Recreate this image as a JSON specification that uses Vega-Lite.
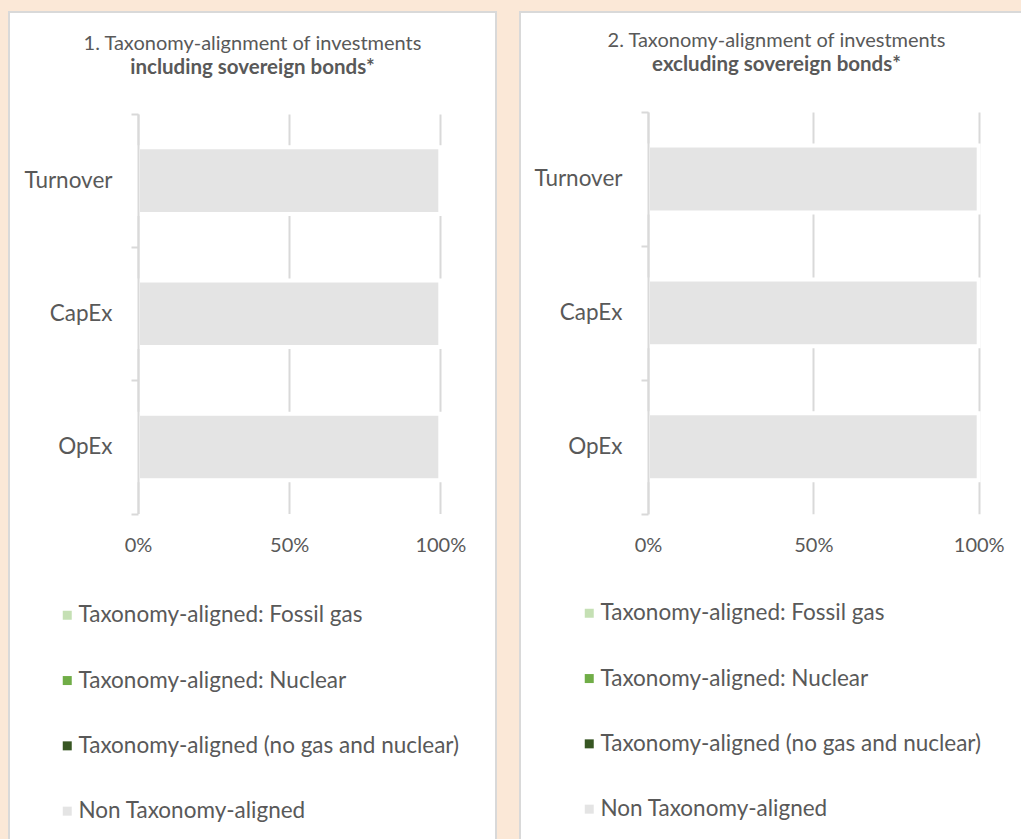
{
  "$schema": "https://vega.github.io/schema/vega-lite/v6.json",
  "background": "#FBE8D7",
  "padding": {"left": 8, "top": 0, "right": 0, "bottom": 0},
  "autosize": {"type": "pad"},
  "spacing": 22,
  "config": {
    "font": "Lato",
    "view": {"fill": "white", "stroke": "#D9D9D9", "strokeWidth": 2},
    "title": {"anchor": "middle", "frame": "group", "fontSize": 20, "fontWeight": "normal", "color": "#595959", "subtitleFontSize": 20.5, "subtitleFontWeight": "bold", "subtitleColor": "#595959", "subtitlePadding": 4, "subtitleFont": "Lato"},
    "axis": {"labelColor": "#595959", "labelFont": "Lato", "domainColor": "#D9D9D9", "tickColor": "#D9D9D9", "gridColor": "#D9D9D9"},
    "legend": {"labelColor": "#595959", "labelFont": "Lato", "labelFontSize": 22.5, "symbolType": "square", "symbolSize": 81, "symbolStrokeWidth": 0, "labelOffset": 0, "rowPadding": 42.3, "padding": 0, "direction": "vertical", "orient": "none", "labelLimit": 500}
  },
  "datasets": {
    "p1": [
      {"metric": "Turnover", "category": "Non Taxonomy-aligned", "share": 1},
      {"metric": "CapEx", "category": "Non Taxonomy-aligned", "share": 1},
      {"metric": "OpEx", "category": "Non Taxonomy-aligned", "share": 1}
    ],
    "p2": [
      {"metric": "Turnover", "category": "Non Taxonomy-aligned", "share": 1},
      {"metric": "CapEx", "category": "Non Taxonomy-aligned", "share": 1},
      {"metric": "OpEx", "category": "Non Taxonomy-aligned", "share": 1}
    ]
  },
  "resolve": {"scale": {"color": "independent", "x": "independent", "y": "independent"}, "legend": {"color": "independent"}},
  "hconcat": [
    {
      "width": 487,
      "height": 832,
      "title": {"text": "1. Taxonomy-alignment of investments", "subtitle": "including sovereign bonds*", "offset": -77},
      "data": {"name": "p1"},
      "mark": {"type": "bar", "stroke": "white", "strokeWidth": 4, "height": {"band": 0.5}, "fill": "#E4E4E4"},
      "encoding": {
        "y": {"field": "metric", "type": "nominal", "sort": ["Turnover", "CapEx", "OpEx"],
              "scale": {"range": [102, 501.5], "paddingInner": 0, "paddingOuter": 0},
              "axis": {"title": null, "orient": "left", "offset": -129, "zindex": 1, "domainWidth": 2, "tickWidth": 2, "tickSize": 7, "tickBand": "extent", "labelFontSize": 22.5, "labelPadding": 19, "grid": false}},
        "x": {"field": "share", "type": "quantitative", "stack": true,
              "scale": {"domain": [0, 1], "range": [129, 431.3], "nice": false},
              "axis": {"title": null, "orient": "top", "offset": 0, "values": [0, 0.5, 1], "format": ".0%", "domain": false, "ticks": false, "tickSize": 0, "labelPadding": -543, "labelFlush": false, "labelFontSize": 20, "grid": true, "gridWidth": 2, "zindex": 0}},
        "color": {"field": "category", "type": "nominal",
                  "scale": {"domain": ["Taxonomy-aligned: Fossil gas", "Taxonomy-aligned: Nuclear", "Taxonomy-aligned (no gas and nuclear)", "Non Taxonomy-aligned"], "range": ["#C5E0B4", "#70AD47", "#375623", "#E4E4E4"]},
                  "legend": {"title": null, "legendX": 47, "legendY": 592}}
      }
    },
    {
      "width": 502,
      "height": 832,
      "title": {"text": "2. Taxonomy-alignment of investments", "subtitle": "excluding sovereign bonds*", "offset": -74, "dx": 5.5},
      "data": {"name": "p2"},
      "mark": {"type": "bar", "stroke": "white", "strokeWidth": 4, "height": {"band": 0.5}, "fill": "#E4E4E4"},
      "encoding": {
        "y": {"field": "metric", "type": "nominal", "sort": ["Turnover", "CapEx", "OpEx"],
              "scale": {"range": [100, 501.7], "paddingInner": 0, "paddingOuter": 0},
              "axis": {"title": null, "orient": "left", "offset": -128, "zindex": 1, "domainWidth": 2, "tickWidth": 2, "tickSize": 7, "tickBand": "extent", "labelFontSize": 22.5, "labelPadding": 19, "grid": false}},
        "x": {"field": "share", "type": "quantitative", "stack": true,
              "scale": {"domain": [0, 1], "range": [128, 458.7], "nice": false},
              "axis": {"title": null, "orient": "top", "offset": 0, "values": [0, 0.5, 1], "format": ".0%", "domain": false, "ticks": false, "tickSize": 0, "labelPadding": -543, "labelFlush": false, "labelFontSize": 20, "grid": true, "gridWidth": 2, "zindex": 0}},
        "color": {"field": "category", "type": "nominal",
                  "scale": {"domain": ["Taxonomy-aligned: Fossil gas", "Taxonomy-aligned: Nuclear", "Taxonomy-aligned (no gas and nuclear)", "Non Taxonomy-aligned"], "range": ["#C5E0B4", "#70AD47", "#375623", "#E4E4E4"]},
                  "legend": {"title": null, "legendX": 58, "legendY": 590}}
      }
    }
  ]
}
